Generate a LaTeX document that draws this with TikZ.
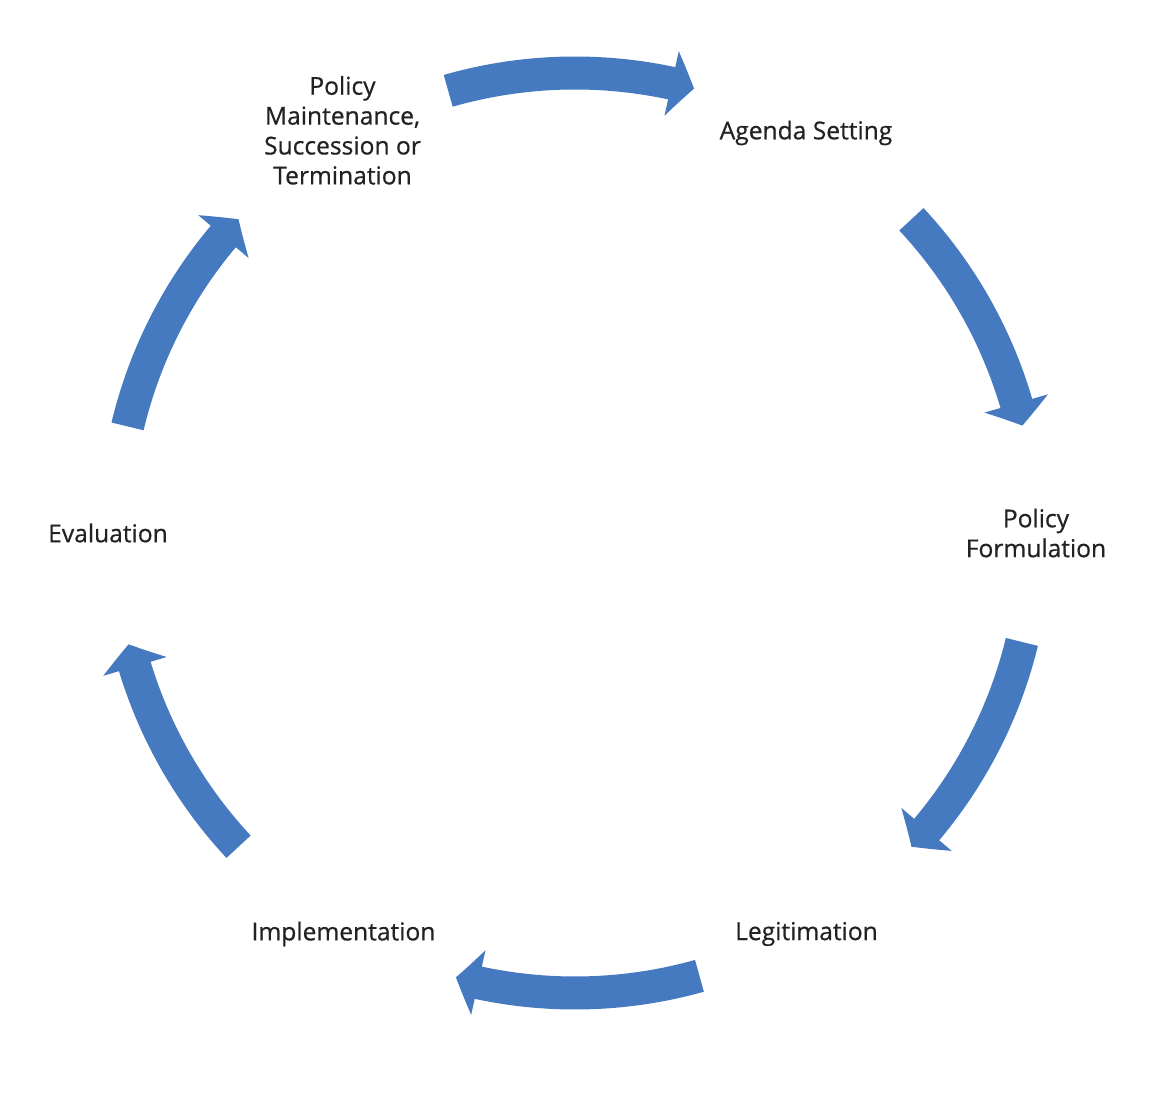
\documentclass[tikz,border=0pt]{standalone}
\usepackage{fontspec}
\setmainfont{Open Sans}
\newfontfamily\stagefont{Open Sans}[FakeBold=0.6]
\usepackage{tikz}
\usetikzlibrary{positioning,arrows.meta,bending}
\usepackage{xcolor}
\definecolor{cycleblue}{RGB}{70,122,192}
\definecolor{labelgray}{RGB}{34,34,34}

\begin{document}
\begin{tikzpicture}[
    stagelabel/.style={text=labelgray,font=\stagefont\fontsize{14}{17}\selectfont,
                       align=center,inner sep=0pt},
    cyclearrow/.style={draw=cycleblue,line width=0.66cm,
                       -{Triangle[width=1.3cm,length=0.46cm,bend]}}
  ]
        \useasboundingbox (-11.5,-11.38) rectangle (11.78,10.66);
        % stage labels
        \node[stagelabel] (maintenance) at (120:9.3)
          {Policy\\Maintenance,\\Succession or\\Termination};
        \node[stagelabel] (agenda) at (60:9.24) {Agenda Setting};
        \node[stagelabel] (formulation) at (0:9.22) {Policy\\Formulation};
        \node[stagelabel] (legitimation) at (-60:9.26) {Legitimation};
        \node[stagelabel] (implementation) at (-120:9.26) {Implementation};
        \node[stagelabel] (evaluation) at (180:9.34) {Evaluation};
        % arrow tails
        \coordinate (tailA) at (106:9.2);
        \coordinate (tailB) at (43:9.2);
        \coordinate (tailC) at (-13.7:9.2);
        \coordinate (tailD) at (-74.3:9.2);
        \coordinate (tailE) at (-137:9.2);
        \coordinate (tailF) at (166.6:9.2);
        % curved arrows
        \draw[cyclearrow] (tailA) arc[start angle=106,end angle=75,radius=9.2];
        \draw[cyclearrow] (tailB) arc[start angle=43,end angle=13.5,radius=9.2];
        \draw[cyclearrow] (tailC) arc[start angle=-13.7,end angle=-43,radius=9.2];
        \draw[cyclearrow] (tailD) arc[start angle=-74.3,end angle=-105,radius=9.2];
        \draw[cyclearrow] (tailE) arc[start angle=-137,end angle=-166,radius=9.2];
        \draw[cyclearrow] (tailF) arc[start angle=166.6,end angle=137,radius=9.2];
      \end{tikzpicture}
\end{document}
